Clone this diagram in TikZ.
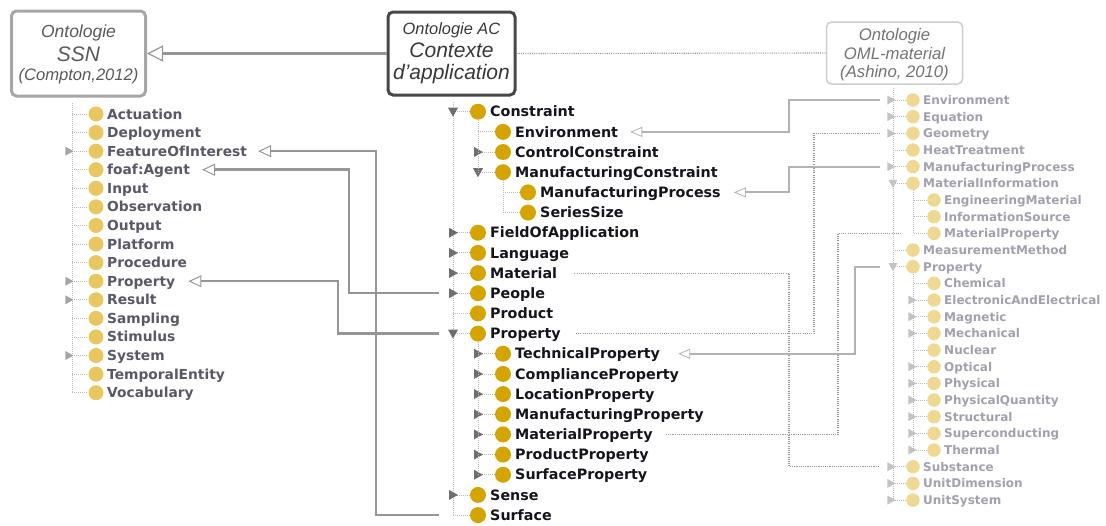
\documentclass[tikz,border=0pt]{standalone}
\usepackage{fontspec}
\setmainfont{Liberation Sans}
\newfontfamily\treefont{DejaVu Sans}
\usetikzlibrary{arrows.meta}

\definecolor{acgold}{RGB}{212,164,0}
\definecolor{ssngold}{RGB}{232,198,96}
\definecolor{omlgold}{RGB}{238,216,146}
\definecolor{actext}{RGB}{20,20,28}
\definecolor{ssntext}{RGB}{88,88,104}
\definecolor{omltext}{RGB}{160,160,174}
\definecolor{actri}{RGB}{110,110,110}
\definecolor{ssntri}{RGB}{165,165,165}
\definecolor{omltri}{RGB}{195,195,195}
\definecolor{linkgray}{RGB}{150,150,150}
\definecolor{omlgray}{RGB}{178,178,178}
\definecolor{branchgray}{RGB}{185,185,185}

\tikzset{
  pics/tri-r/.style={code={\fill (-4,-5) -- (5,0) -- (-4,5) -- cycle;}},
  pics/tri-d/.style={code={\fill (-5,-4) -- (5,-4) -- (0,5) -- cycle;}},
}

\begin{document}
\begin{tikzpicture}[x=1pt,y=-1pt,
  ontobox/.style={draw,rounded corners=5pt,inner sep=0pt},
  boxline/.style={anchor=base,inner sep=0pt},
  branch/.style={draw=branchgray,line width=0.8pt,dash pattern=on 1pt off 1pt},
  acdot/.style={circle,fill=acgold,inner sep=0pt,minimum size=16pt},
  ssndot/.style={circle,fill=ssngold,inner sep=0pt,minimum size=15pt},
  omldot/.style={circle,fill=omlgold,inner sep=0pt,minimum size=13.5pt},
  aclabel/.style={anchor=base west,inner sep=0pt,text=actext,font=\treefont\bfseries\fontsize{14.3}{16}\selectfont},
  ssnlabel/.style={anchor=base west,inner sep=0pt,text=ssntext,font=\treefont\bfseries\fontsize{13.8}{15}\selectfont},
  omllabel/.style={anchor=base west,inner sep=0pt,text=omltext,font=\treefont\bfseries\fontsize{12}{14}\selectfont},
  ssnlink/.style={draw=linkgray,line width=2.5pt,-{Triangle[open,length=13pt,width=12pt,line width=1pt]}},
  omllink/.style={draw=omlgray,line width=1.8pt,-{Triangle[open,length=12pt,width=10pt,line width=0.8pt]}},
  dotlink/.style={draw=linkgray,line width=1.1pt,dash pattern=on 1.1pt off 1.1pt},
]
\useasboundingbox (0,0) rectangle (1106,525);

% the three ontologies
\node[ontobox,draw=linkgray!85,line width=3pt,minimum width=134pt,minimum height=85pt] (ssn) at (78.5,53.5) {};
\node[boxline,text=black!65,font=\itshape\fontsize{17.5}{20}\selectfont] (ssn-a) at (78.5,37) {Ontologie};
\node[boxline,text=black!65,font=\itshape\fontsize{21}{24}\selectfont] (ssn-b) at (78.5,61.5) {SSN};
\node[boxline,text=black!65,font=\itshape\fontsize{16.6}{20}\selectfont] (ssn-c) at (78.5,80) {(Compton,2012)};

\node[ontobox,draw=black!72,line width=3pt,minimum width=127pt,minimum height=83pt] (ac) at (451.5,53.5) {};
\node[boxline,text=black!78,font=\itshape\fontsize{16.4}{20}\selectfont] (ac-a) at (451.5,34) {Ontologie AC};
\node[boxline,text=black!78,font=\itshape\fontsize{21}{24}\selectfont] (ac-b) at (451.5,57.5) {Contexte};
\node[boxline,text=black!78,font=\itshape\fontsize{21}{24}\selectfont] (ac-c) at (451.5,79) {d'application};

\node[ontobox,draw=black!20,line width=1.5pt,minimum width=136pt,minimum height=62pt] (oml) at (894.5,53) {};
\node[boxline,text=black!55,font=\itshape\fontsize{16.7}{20}\selectfont] (oml-a) at (894.5,40.5) {Ontologie};
\node[boxline,text=black!55,font=\itshape\fontsize{16.7}{20}\selectfont] (oml-b) at (894.5,59) {OML-material};
\node[boxline,text=black!55,font=\itshape\fontsize{16.7}{20}\selectfont] (oml-c) at (894.5,77) {(Ashino, 2010)};

\draw[ssnlink,line width=3.5pt,-{Triangle[open,length=16pt,width=16pt,line width=1.2pt]}] (ac.west) -- (ssn.east);
\draw[dotlink] (ac.east) -- (oml.west);

% SSN tree
\draw[branch] (72,103) -- (72,392.7);
\foreach \nm/\tg/\txt [count=\i from 0] in {Actuation/n/Actuation, Deployment/n/Deployment,
    FeatureOfInterest/r/FeatureOfInterest, foafAgent/n/foaf:Agent, Input/n/Input,
    Observation/n/Observation, Output/n/Output, Platform/n/Platform, Procedure/n/Procedure,
    Property/r/Property, Result/r/Result, Sampling/n/Sampling, Stimulus/n/Stimulus,
    System/r/System, TemporalEntity/n/TemporalEntity, Vocabulary/n/Vocabulary}{
  \pgfmathsetmacro\yy{114+18.58*\i}
  \draw[branch] (72,\yy) -- (88,\yy);
  \if r\tg \pic[color=ssntri,scale=0.9] at (69,\yy) {tri-r}; \fi
  \node[ssndot] (s-\nm-dot) at (96,\yy) {};
  \node[ssnlabel] (s-\nm) at (107,\yy+5) {\txt};
  \coordinate (s-\nm-out) at (s-\nm.east |- s-\nm-dot);
}

% AC tree
\draw[branch] (453,102) -- (453,515.1);
\foreach \nm/\lv/\tg [count=\i from 0] in {Constraint/0/d, Environment/1/n, ControlConstraint/1/r,
    ManufacturingConstraint/1/d, ManufacturingProcess/2/n, SeriesSize/2/n, FieldOfApplication/0/r,
    Language/0/r, Material/0/r, People/0/r, Product/0/n, Property/0/d, TechnicalProperty/1/r,
    ComplianceProperty/1/r, LocationProperty/1/r, ManufacturingProperty/1/r, MaterialProperty/1/r,
    ProductProperty/1/r, SurfaceProperty/1/r, Sense/0/r, Surface/0/n}{
  \pgfmathsetmacro\yy{111.7+20.17*\i}
  \pgfmathsetmacro\xx{453+25*\lv}
  \draw[branch] (\xx,\yy) -- ++(17,0);
  \if r\tg \pic[color=actri] at (\xx,\yy) {tri-r}; \fi
  \if d\tg \pic[color=actri] at (\xx,\yy) {tri-d}; \fi
  \node[acdot] (a-\nm-dot) at (\xx+25,\yy) {};
  \node[aclabel] (a-\nm) at (\xx+37,\yy+5.2) {\nm};
  \coordinate (a-\nm-in) at (\xx-14,\yy);
  \coordinate (a-\nm-out) at (a-\nm.east |- a-\nm-dot);
}
\draw[branch] (a-Constraint-dot.south) -- (a-Constraint-dot.south |- a-ManufacturingConstraint-dot);
\draw[branch] (a-ManufacturingConstraint-dot.south) -- (a-ManufacturingConstraint-dot.south |- a-SeriesSize-dot);
\draw[branch] (a-Property-dot.south) -- (a-Property-dot.south |- a-SurfaceProperty-dot);

% OML tree
\draw[branch] (893,88) -- (893,500);
\foreach \nm/\lv/\tg [count=\i from 0] in {Environment/0/r, Equation/0/r, Geometry/0/r,
    HeatTreatment/0/n, ManufacturingProcess/0/r, MaterialInformation/0/d, EngineeringMaterial/1/n,
    InformationSource/1/n, MaterialProperty/1/n, MeasurementMethod/0/n, Property/0/d,
    Chemical/1/n, ElectronicAndElectrical/1/r, Magnetic/1/r, Mechanical/1/r, Nuclear/1/n,
    Optical/1/r, Physical/1/r, PhysicalQuantity/1/r, Structural/1/r, Superconducting/1/r,
    Thermal/1/r, Substance/0/r, UnitDimension/0/r, UnitSystem/0/r}{
  \pgfmathsetmacro\yy{100+16.67*\i}
  \pgfmathsetmacro\xx{893+21*\lv}
  \draw[branch] (\xx,\yy) -- ++(13,0);
  \if r\tg \pic[color=omltri,scale=0.9] at (\xx-2,\yy) {tri-r}; \fi
  \if d\tg \pic[color=omltri,scale=0.9] at (\xx,\yy) {tri-d}; \fi
  \node[omldot] (o-\nm-dot) at (\xx+20,\yy) {};
  \node[omllabel] (o-\nm) at (\xx+30,\yy+4.4) {\nm};
  \coordinate (o-\nm-in) at (\xx-13,\yy);
}
\draw[branch] (o-MaterialInformation-dot.south) -- (o-MaterialInformation-dot.south |- o-MaterialProperty-dot);
\draw[branch] (o-Property-dot.south) -- (o-Property-dot.south |- o-Thermal-dot);

% dotted correspondences
\draw[dotlink] ([xshift=17pt]a-Material-out) -| ([xshift=-91pt]o-Substance-in) -- (o-Substance-in);
\draw[dotlink] ([xshift=15pt]a-Property-out) -| ([xshift=-66pt]o-Geometry-in) -- (o-Geometry-in);
\draw[dotlink] ([xshift=13pt]a-MaterialProperty-out) -| ([xshift=-63pt]o-MaterialProperty-in) -- (o-MaterialProperty-in);

% links from OML
\draw[omllink] (o-Environment-in) -- ++(-91,0) |- ([xshift=12pt]a-Environment-out);
\draw[omllink] (o-ManufacturingProcess-in) -- ++(-91,0) |- ([xshift=13pt]a-ManufacturingProcess-out);
\draw[omllink] (o-Property-in) -- ++(-25,0) |- ([xshift=18pt]a-TechnicalProperty-out);

% links to SSN
\draw[ssnlink] (a-Surface-in) -- ++(-63,0) |- ([xshift=11pt]s-FeatureOfInterest-out);
\draw[ssnlink] (a-People-in) -- ++(-90,0) |- ([xshift=12pt]s-foafAgent-out);
\draw[ssnlink] (a-Property-in) -- ++(-101,0) |- ([xshift=13pt]s-Property-out);
\end{tikzpicture}
\end{document}
